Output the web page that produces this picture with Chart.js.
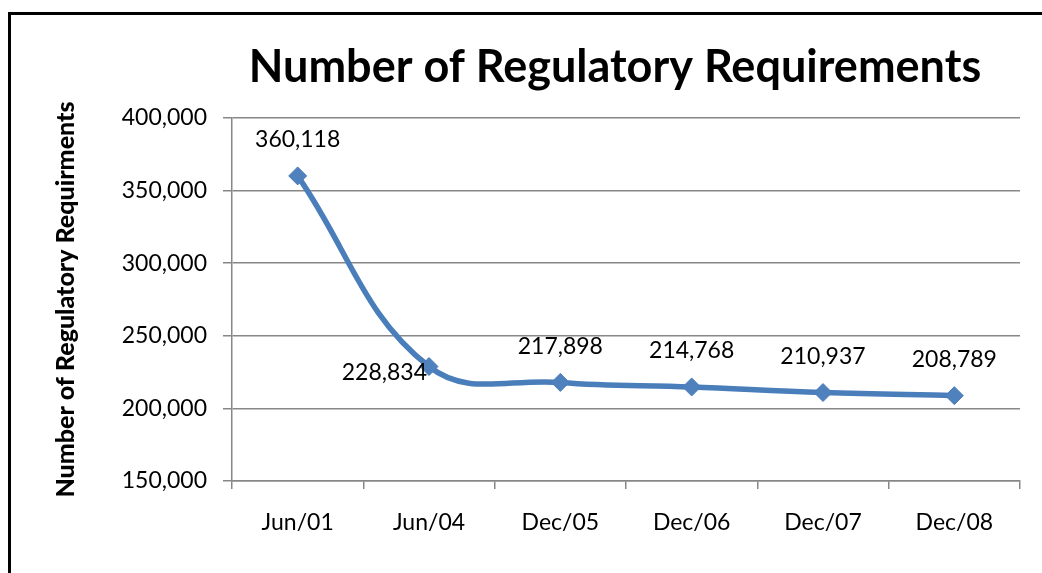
<!DOCTYPE html>
<html>
<head>
<meta charset="utf-8">
<script src="https://cdn.jsdelivr.net/npm/chart.js@4/dist/chart.umd.min.js"></script>
<style>
  html, body { margin: 0; padding: 0; background: #fff; }
  #wrap { position: relative; width: 1042px; height: 573px; overflow: hidden; background: #fff; }
  #frame { position: absolute; left: 8px; top: 12px; width: 2000px; height: 2000px; border-left: 3px solid #000; border-top: 3px solid #000; box-sizing: border-box; }
  canvas { position: absolute; left: 0; top: 0; }
</style>
</head>
<body>
<div id="wrap">
  <div id="frame"></div>
  <canvas id="c" width="1042" height="573"></canvas>
</div>
<script>
const categories = ["Jun/01", "Jun/04", "Dec/05", "Dec/06", "Dec/07", "Dec/08"];
const requirements = [360118, 228834, 217898, 214768, 210937, 208789];
const yTicks = [150000, 200000, 250000, 300000, 350000, 400000];

const FONT = "Lato, 'Open Sans', sans-serif";
const fmt = v => v.toLocaleString('en-US');

const labelPlugin = {
  id: 'pointLabels',
  afterLayout(chart) {
    if (chart.titleBlock) { chart.titleBlock.left -= 22; }
  },
  afterDatasetsDraw(chart) {
    const ctx = chart.ctx;
    const meta = chart.getDatasetMeta(0);
    ctx.save();
    ctx.font = "23px " + FONT;
    ctx.fillStyle = '#000';
    meta.data.forEach((pt, i) => {
      const txt = fmt(requirements[i]);
      ctx.textBaseline = 'middle';
      if (i === 1) {
        ctx.textAlign = 'right';
        ctx.fillText(txt, pt.x - 2, pt.y + 6);
      } else {
        ctx.textAlign = 'center';
        ctx.fillText(txt, pt.x, pt.y - 36);
      }
    });
    ctx.restore();
  }
};

new Chart(document.getElementById('c'), {
  type: 'line',
  data: {
    labels: categories,
    datasets: [{
      data: requirements,
      borderColor: '#4A7EBB',
      borderWidth: 5.5,
      tension: 0.4,
      pointStyle: 'rectRot',
      pointRadius: 9,
      pointBackgroundColor: '#4F81BD',
      pointBorderColor: '#4A7EBB',
      pointBorderWidth: 1,
      fill: false
    }]
  },
  options: {
    responsive: false,
    animation: false,
    devicePixelRatio: 1,
    layout: { padding: { left: 40, right: 22, top: 0, bottom: 0 } },
    plugins: {
      legend: { display: false },
      tooltip: { enabled: false },
      title: {
        display: true,
        text: 'Number of Regulatory Requirements',
        fullSize: false,
        color: '#000',
        font: { family: FONT, size: 45, weight: 700, lineHeight: 1.2 },
        padding: { top: 40, bottom: 24 }
      }
    },
    scales: {
      x: {
        type: 'category',
        offset: true,
        grid: { offset: true, drawOnChartArea: false, drawTicks: true, tickLength: 8, color: '#878787', lineWidth: 1.5 },
        border: { display: true, color: '#878787', width: 1.5 },
        ticks: { color: '#000', font: { family: FONT, size: 23 }, padding: 20, maxRotation: 0 },
        afterFit: s => { s.height = 92; }
      },
      y: {
        min: 150000,
        max: 400000,
        afterBuildTicks: s => { s.ticks = yTicks.map(v => ({ value: v })); },
        grid: { color: '#878787', lineWidth: 1.5, tickLength: 9 },
        border: { display: true, color: '#878787', width: 1.5 },
        ticks: { color: '#000', font: { family: FONT, size: 23 }, padding: 16, callback: v => fmt(v) },
        title: {
          display: true,
          text: 'Number of Regulatory Requirments',
          color: '#000',
          font: { family: FONT, size: 25, weight: 900, lineHeight: 1.2 },
          padding: { top: 11, bottom: 0 }
        },
        afterFit: s => { s.width = 192; }
      }
    }
  },
  plugins: [labelPlugin]
});
</script>
</body>
</html>
